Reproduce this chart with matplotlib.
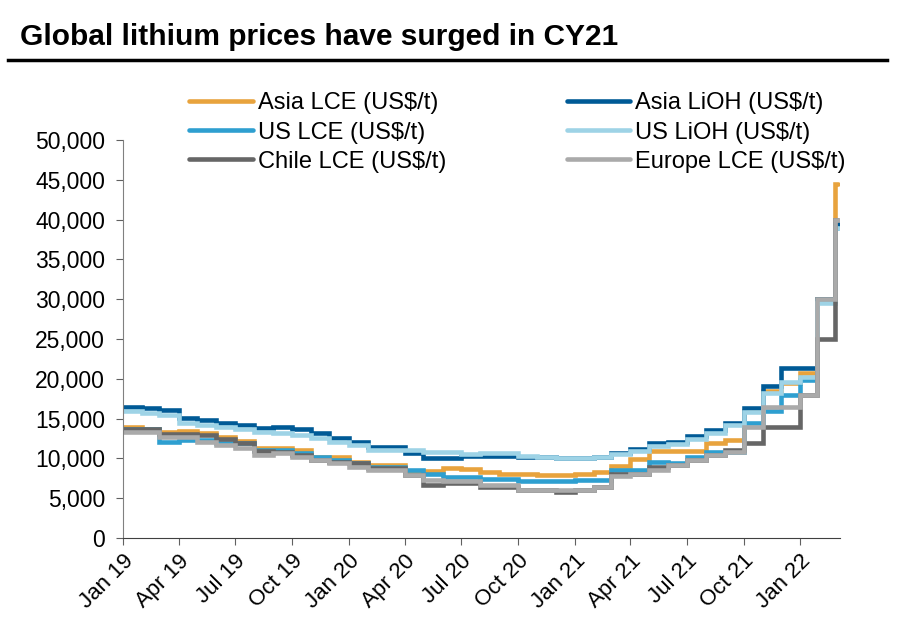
import matplotlib
matplotlib.use("Agg")
import matplotlib.pyplot as plt
import matplotlib.dates as mdates
import matplotlib.ticker as mticker
import pandas as pd

plt.rcParams['font.family'] = ['Liberation Sans', 'DejaVu Sans']

# monthly observations Jan 19 .. Jan 22, then late-Jan, late-Feb and early-Mar 22
dates = list(pd.date_range("2019-01-01", "2022-01-01", freq="MS")) + \
    [pd.Timestamp("2022-01-27"), pd.Timestamp("2022-02-26"), pd.Timestamp("2022-03-03")]

asia_lce = [13900, 13700, 13300, 13400, 13200, 12700, 12200, 11300, 11300, 11000,
            10200, 10200, 9500, 9200, 9200, 8400, 8400, 8800, 8700, 8300,
            8100, 8100, 7900, 7900, 8000, 8300, 9000, 9900, 10900, 10900,
            10900, 11900, 12300, 16000, 18500, 19500, 20700, 30000, 44500, 44500]
asia_lioh = [16500, 16300, 16100, 15100, 14800, 14400, 14200, 13800, 14000, 13700,
             13200, 12600, 12100, 11400, 11400, 10700, 10000, 10000, 10300, 10300,
             10300, 10200, 10200, 10100, 10100, 10200, 10700, 11200, 11900, 12000,
             12800, 13600, 14400, 16300, 19100, 21300, 21300, 30000, 39500, 39500]
us_lce = [13700, 13700, 12100, 12300, 12300, 11900, 11900, 11100, 11100, 10700,
          10200, 9800, 9400, 8900, 8900, 8500, 8100, 7700, 7700, 7400,
          7400, 7100, 7100, 7100, 7300, 7300, 8500, 8500, 9500, 9400,
          10200, 10800, 10800, 14500, 16000, 18000, 19800, 29800, 39000, 39000]
us_lioh = [15900, 15700, 15400, 14500, 14200, 13900, 13700, 13300, 13200, 13000,
           12600, 12100, 11700, 11100, 11100, 11100, 10800, 10800, 10500, 10700,
           10700, 10300, 10200, 10100, 10100, 10200, 10500, 10900, 11600, 11800,
           12400, 13200, 14200, 15800, 18200, 19600, 20200, 29500, 39000, 39000]
chile_lce = [13700, 13700, 13100, 13100, 12900, 12400, 11900, 10900, 10800, 10400,
             9800, 9500, 9400, 8800, 8800, 7900, 6700, 6900, 6900, 6400,
             6400, 6000, 6000, 5800, 6000, 6400, 8100, 8100, 8900, 9200,
             9800, 10400, 11000, 11900, 14000, 14000, 18000, 25000, 40000, 40000]
europe_lce = [13300, 13300, 12700, 12700, 12100, 11700, 11300, 10400, 10700, 10200,
              9800, 9400, 8900, 8500, 8500, 7900, 7300, 7100, 7100, 6700,
              6700, 6000, 6000, 6000, 6000, 6400, 7800, 8100, 8500, 9200,
              9800, 10400, 10800, 14000, 16500, 16500, 18000, 30000, 40000, 40000]

series = [
    ("Asia LCE (US$/t)", asia_lce, "#E8A33D"),
    ("Asia LiOH (US$/t)", asia_lioh, "#005A96"),
    ("US LCE (US$/t)", us_lce, "#2E9FD0"),
    ("US LiOH (US$/t)", us_lioh, "#9ED3E6"),
    ("Chile LCE (US$/t)", chile_lce, "#666666"),
    ("Europe LCE (US$/t)", europe_lce, "#AAAAAA"),
]

fig = plt.figure(figsize=(8.97, 6.27), dpi=100)
ax = fig.add_axes([123/897, 1 - 538/627, (840 - 123)/897, (538 - 140)/627])

for name, vals, col in series:
    ax.step(dates, vals, where="post", color=col, lw=3.3, label=name,
            solid_capstyle="round", solid_joinstyle="miter")

ax.set_ylim(0, 50000)
ax.set_xlim(pd.Timestamp("2019-01-01"), pd.Timestamp("2022-03-06"))
ax.yaxis.set_major_locator(mticker.MultipleLocator(5000))
ax.yaxis.set_major_formatter(mticker.FuncFormatter(lambda v, p: f"{int(v):,}"))
ax.xaxis.set_major_locator(mdates.MonthLocator(bymonth=[1, 4, 7, 10]))
ax.xaxis.set_major_formatter(mdates.DateFormatter("%b %y"))

for s in ["top", "right"]:
    ax.spines[s].set_visible(False)
ax.spines["left"].set_color("#808080")
ax.spines["bottom"].set_color("#404040")
ax.tick_params(axis="both", length=5, color="#606060")
ax.tick_params(axis="y", labelsize=16.5, pad=8)
ax.tick_params(axis="x", labelsize=16, pad=4)
plt.setp(ax.get_xticklabels(), rotation=45, ha="right", rotation_mode="anchor")

fig.text(20/897, 1 - 37/627, "Global lithium prices have surged in CY21",
         fontsize=21.5, fontweight="bold", va="center", ha="left")
fig.add_artist(plt.Line2D([8/897, 887/897], [1 - 60/627, 1 - 60/627],
                          color="black", lw=2.5))

# row-wise legend order: reorder for matplotlib's column filling
handles, labels = ax.get_legend_handles_labels()
order = [0, 2, 4, 1, 3, 5]
fig.legend([handles[i] for i in order], [labels[i] for i in order], ncol=2,
           loc="upper left", bbox_to_anchor=(180/897, 1 - 83/627), frameon=False,
           fontsize=17, handlelength=2.7, handletextpad=0.2,
           columnspacing=5.1, labelspacing=0.3, borderaxespad=0)

fig.savefig("out.png", dpi=100)
